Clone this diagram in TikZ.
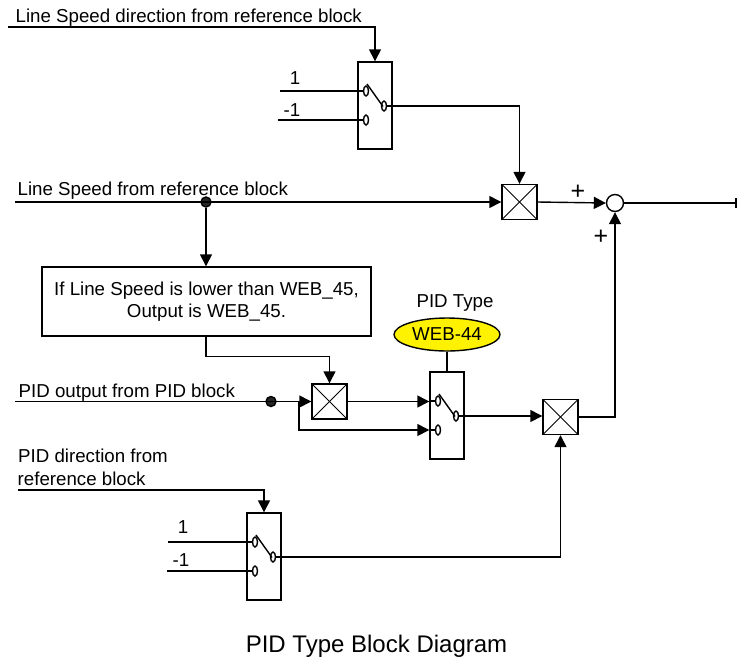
\documentclass[tikz,border=0pt]{standalone}
\usepackage{fontspec}
\setmainfont{Liberation Sans}
\usetikzlibrary{arrows.meta, shapes.geometric, calc}

\begin{document}
\begin{tikzpicture}[
    x=1pt, y=-1pt, line width=1.4pt,
    % Define styles for reusable components
    label/.style={font=\fontsize{18.7}{22}\selectfont, inner sep=0pt},
    mult/.style={draw, minimum size=35pt, inner sep=0pt, path picture={
        \draw[line width=0.9pt] (path picture bounding box.north west) -- (path picture bounding box.south east);
        \draw[line width=0.9pt] (path picture bounding box.north east) -- (path picture bounding box.south west);
    }},
    contact/.style={draw, ellipse, minimum width=5pt, minimum height=10pt, inner sep=0pt, fill=white},
    dot/.style={draw, circle, fill=black!85, inner sep=0pt, minimum size=10pt},
    arrow/.style={-{Triangle[length=12pt, width=12pt]}}
]

    \tikzset{
        switch_symbol/.pic={
            % Housing, origin at the centre
            \node[draw, minimum width=34pt, minimum height=87pt, inner sep=0pt] (-box) at (0,0) {};
            % Contacts
            \node[contact] (-in1) at (-9,-14.5) {};
            \node[contact] (-in2) at (-9,14.5) {};
            \node[contact] (-out) at (9,0.5) {};
            % Lever and stubs
            \draw (-8,-21.5) -- (8,1);
            \draw (-in1.west -| -box.west) -- (-in1.west);
            \draw (-in2.west -| -box.west) -- (-in2.west);
            \draw (-out.east) -- (-out.east -| -box.east);
        }
    }

    \useasboundingbox (0,0) rectangle (737,657);

    % --- SWITCHES ---
    \pic (swtop) at (375,105.5) {switch_symbol};
    \pic (swpid) at (447,415.5) {switch_symbol};
    \pic (swdir) at (264,556.5) {switch_symbol};

    % --- BLOCKS ---
    \node[mult] (multtop) at (519.5,202) {};
    \node[mult] (multmid) at (329.5,401.5) {};
    \node[mult] (multout) at (560.5,417) {};
    \node[draw, circle, minimum size=17pt, inner sep=0pt] (sum) at (615,203) {};
    \node[draw, minimum width=329pt, minimum height=69pt, align=center, label] (limit) at (206.5,301.5)
        {If Line Speed is lower than WEB\_45,\\Output is WEB\_45.};
    \node[draw, ellipse, fill=yellow, minimum width=106pt, minimum height=33pt, inner sep=0pt, label] (web) at (447,334.5) {WEB-44};

    % --- TEXTS ---
    \node[label, anchor=base west] (lblspeeddir) at (15,22) {Line Speed direction from reference block};
    \node[label, anchor=base west] (lblspeed) at (17,195) {Line Speed from reference block};
    \node[label, anchor=base west] (lbloutput) at (18,397) {PID output from PID block};
    \node[label, anchor=base west] (lbldir1) at (17.5,462) {PID direction from};
    \node[label, anchor=base west] (lbldir2) at (17,485) {reference block};
    \node[label, anchor=base] (lbltype) at (455,307) {PID Type};
    \node[label, anchor=base] (lblone1) at (295,84) {1};
    \node[label, anchor=base] (lblneg1) at (292,116) {-1};
    \node[label, anchor=base] (lblone2) at (183,533) {1};
    \node[label, anchor=base] (lblneg2) at (181,566) {-1};
    \node[label, font=\fontsize{25}{28}\selectfont] (lblplus1) at (578,192) {+};
    \node[label, font=\fontsize{25}{28}\selectfont] (lblplus2) at (601,237) {+};
    \node[anchor=base, font=\fontsize{24}{28}\selectfont, inner sep=0pt] (caption) at (376.5,652) {PID Type Block Diagram};

    % --- FREE ENDS ---
    \coordinate (startdirtop) at (8,27);
    \coordinate (startspeed) at (15,202);
    \coordinate (startoutput) at (15,401.5);
    \coordinate (startdir) at (18,490);
    \coordinate (end) at (736,203);
    \node[dot] (dotspeed) at (206,202) {};
    \node[dot] (dotoutput) at (271,401.5) {};
    \coordinate (branch) at (299,401.5);

    % Line speed direction
    \draw[arrow] (startdirtop) -| (swtop-box.north);
    \draw (280,91) -- (swtop-in1.west);
    \draw (278,120) -- (swtop-in2.west);
    \draw[arrow] (swtop-out.east) -| (multtop.north);

    % Line speed and sum
    \draw[arrow] (startspeed) -- (multtop.west);
    \draw[arrow] (multtop.east) -- (sum.west);
    \draw (sum.east) -- (end);
    \draw[line width=2pt] ($(end)+(0,-5)$) -- ($(end)+(0,5)$);

    % Limit block
    \draw[arrow] (dotspeed) -- (limit.north -| dotspeed);
    \draw[arrow] (limit.south -| dotspeed) -- ++(0,20) -| (multmid.north);

    % PID output
    \draw[arrow] (startoutput) -- (multmid.west);
    \draw[arrow] (multmid.east) -- (multmid.east -| swpid-box.west);
    \draw[arrow] (branch) |- (swpid-in2.west -| swpid-box.west);
    \draw (web.south) -- (swpid-box.north);
    \draw[arrow] (swpid-out.east) -- (swpid-out.east -| multout.west);

    % PID direction
    \draw[arrow] (startdir) -| (swdir-box.north);
    \draw (168,542) -- (swdir-in1.west);
    \draw (167,571) -- (swdir-in2.west);
    \draw[arrow] (swdir-out.east) -| (multout.south);
    \draw[arrow] (multout.east) -| (sum.south);

\end{tikzpicture}
\end{document}
